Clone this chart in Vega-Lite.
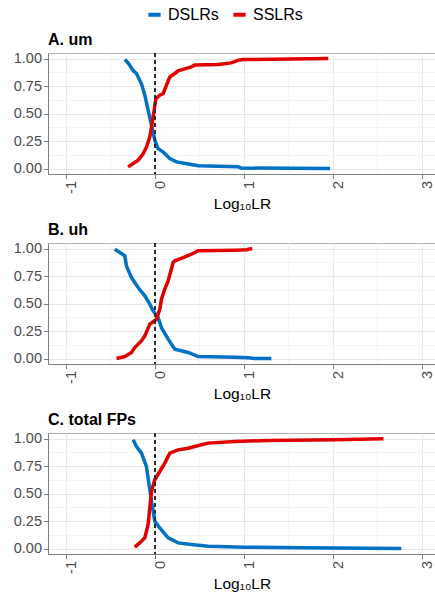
{
  "$schema": "https://vega.github.io/schema/vega-lite/v6.json",
  "padding": {"left": 12, "top": 6, "right": 0, "bottom": 2},
  "background": "white",
  "config": {
    "font": "Liberation Sans",
    "view": {"stroke": "#b3b3b3", "strokeWidth": 1},
    "title": {"anchor": "start", "frame": "group", "fontSize": 16, "fontWeight": "bold", "color": "black", "offset": 3},
    "axis": {
      "labelFont": "Liberation Sans", "labelFontSize": 14.5, "labelColor": "#4d4d4d",
      "titleFont": "Liberation Sans", "titleFontSize": 15.5, "titleFontWeight": "normal", "titleColor": "black",
      "domainColor": "#7f7f7f", "tickSize": 4.5, "labelPadding": 2, "gridWidth": 1
    },
    "legend": {"labelFont": "Liberation Sans", "labelFontSize": 16, "labelColor": "black"}
  },
  "data": {
    "values": [
      {"panel": "A. um", "series": "DSLRs", "x": -0.337, "y": 0.99},
      {"panel": "A. um", "series": "DSLRs", "x": -0.3, "y": 0.96},
      {"panel": "A. um", "series": "DSLRs", "x": -0.243, "y": 0.89},
      {"panel": "A. um", "series": "DSLRs", "x": -0.206, "y": 0.864},
      {"panel": "A. um", "series": "DSLRs", "x": -0.15, "y": 0.77},
      {"panel": "A. um", "series": "DSLRs", "x": -0.112, "y": 0.666},
      {"panel": "A. um", "series": "DSLRs", "x": -0.075, "y": 0.53},
      {"panel": "A. um", "series": "DSLRs", "x": -0.037, "y": 0.394},
      {"panel": "A. um", "series": "DSLRs", "x": 0.0, "y": 0.257},
      {"panel": "A. um", "series": "DSLRs", "x": 0.038, "y": 0.18},
      {"panel": "A. um", "series": "DSLRs", "x": 0.094, "y": 0.15},
      {"panel": "A. um", "series": "DSLRs", "x": 0.169, "y": 0.09},
      {"panel": "A. um", "series": "DSLRs", "x": 0.244, "y": 0.06},
      {"panel": "A. um", "series": "DSLRs", "x": 0.41, "y": 0.036},
      {"panel": "A. um", "series": "DSLRs", "x": 0.49, "y": 0.025},
      {"panel": "A. um", "series": "DSLRs", "x": 0.94, "y": 0.015},
      {"panel": "A. um", "series": "DSLRs", "x": 0.97, "y": 0.004},
      {"panel": "A. um", "series": "DSLRs", "x": 1.97, "y": 0.0},
      {"panel": "A. um", "series": "SSLRs", "x": -0.3, "y": 0.015},
      {"panel": "A. um", "series": "SSLRs", "x": -0.243, "y": 0.045},
      {"panel": "A. um", "series": "SSLRs", "x": -0.187, "y": 0.075},
      {"panel": "A. um", "series": "SSLRs", "x": -0.13, "y": 0.136},
      {"panel": "A. um", "series": "SSLRs", "x": -0.093, "y": 0.196},
      {"panel": "A. um", "series": "SSLRs", "x": -0.056, "y": 0.287},
      {"panel": "A. um", "series": "SSLRs", "x": -0.03, "y": 0.41},
      {"panel": "A. um", "series": "SSLRs", "x": -0.007, "y": 0.53},
      {"panel": "A. um", "series": "SSLRs", "x": 0.012, "y": 0.636},
      {"panel": "A. um", "series": "SSLRs", "x": 0.056, "y": 0.666},
      {"panel": "A. um", "series": "SSLRs", "x": 0.094, "y": 0.68},
      {"panel": "A. um", "series": "SSLRs", "x": 0.131, "y": 0.757},
      {"panel": "A. um", "series": "SSLRs", "x": 0.169, "y": 0.833},
      {"panel": "A. um", "series": "SSLRs", "x": 0.225, "y": 0.864},
      {"panel": "A. um", "series": "SSLRs", "x": 0.262, "y": 0.887},
      {"panel": "A. um", "series": "SSLRs", "x": 0.41, "y": 0.924},
      {"panel": "A. um", "series": "SSLRs", "x": 0.45, "y": 0.94},
      {"panel": "A. um", "series": "SSLRs", "x": 0.71, "y": 0.945},
      {"panel": "A. um", "series": "SSLRs", "x": 0.86, "y": 0.96},
      {"panel": "A. um", "series": "SSLRs", "x": 0.94, "y": 0.985},
      {"panel": "A. um", "series": "SSLRs", "x": 0.99, "y": 0.99},
      {"panel": "A. um", "series": "SSLRs", "x": 1.95, "y": 1.0},
      {"panel": "B. uh", "series": "DSLRs", "x": -0.45, "y": 0.994},
      {"panel": "B. uh", "series": "DSLRs", "x": -0.393, "y": 0.964},
      {"panel": "B. uh", "series": "DSLRs", "x": -0.337, "y": 0.933},
      {"panel": "B. uh", "series": "DSLRs", "x": -0.318, "y": 0.84},
      {"panel": "B. uh", "series": "DSLRs", "x": -0.262, "y": 0.736},
      {"panel": "B. uh", "series": "DSLRs", "x": -0.187, "y": 0.645},
      {"panel": "B. uh", "series": "DSLRs", "x": -0.112, "y": 0.57},
      {"panel": "B. uh", "series": "DSLRs", "x": -0.056, "y": 0.494},
      {"panel": "B. uh", "series": "DSLRs", "x": -0.019, "y": 0.433},
      {"panel": "B. uh", "series": "DSLRs", "x": 0.037, "y": 0.373},
      {"panel": "B. uh", "series": "DSLRs", "x": 0.075, "y": 0.28},
      {"panel": "B. uh", "series": "DSLRs", "x": 0.15, "y": 0.176},
      {"panel": "B. uh", "series": "DSLRs", "x": 0.225, "y": 0.085},
      {"panel": "B. uh", "series": "DSLRs", "x": 0.375, "y": 0.055},
      {"panel": "B. uh", "series": "DSLRs", "x": 0.487, "y": 0.018},
      {"panel": "B. uh", "series": "DSLRs", "x": 0.9, "y": 0.012},
      {"panel": "B. uh", "series": "DSLRs", "x": 1.05, "y": 0.006},
      {"panel": "B. uh", "series": "DSLRs", "x": 1.12, "y": 0.0},
      {"panel": "B. uh", "series": "DSLRs", "x": 1.31, "y": 0.0},
      {"panel": "B. uh", "series": "SSLRs", "x": -0.43, "y": 0.0},
      {"panel": "B. uh", "series": "SSLRs", "x": -0.337, "y": 0.018},
      {"panel": "B. uh", "series": "SSLRs", "x": -0.262, "y": 0.055},
      {"panel": "B. uh", "series": "SSLRs", "x": -0.225, "y": 0.1},
      {"panel": "B. uh", "series": "SSLRs", "x": -0.15, "y": 0.16},
      {"panel": "B. uh", "series": "SSLRs", "x": -0.112, "y": 0.206},
      {"panel": "B. uh", "series": "SSLRs", "x": -0.056, "y": 0.312},
      {"panel": "B. uh", "series": "SSLRs", "x": -0.019, "y": 0.333},
      {"panel": "B. uh", "series": "SSLRs", "x": 0.019, "y": 0.358},
      {"panel": "B. uh", "series": "SSLRs", "x": 0.056, "y": 0.448},
      {"panel": "B. uh", "series": "SSLRs", "x": 0.075, "y": 0.54},
      {"panel": "B. uh", "series": "SSLRs", "x": 0.112, "y": 0.63},
      {"panel": "B. uh", "series": "SSLRs", "x": 0.15, "y": 0.706},
      {"panel": "B. uh", "series": "SSLRs", "x": 0.206, "y": 0.873},
      {"panel": "B. uh", "series": "SSLRs", "x": 0.225, "y": 0.888},
      {"panel": "B. uh", "series": "SSLRs", "x": 0.318, "y": 0.918},
      {"panel": "B. uh", "series": "SSLRs", "x": 0.412, "y": 0.948},
      {"panel": "B. uh", "series": "SSLRs", "x": 0.487, "y": 0.979},
      {"panel": "B. uh", "series": "SSLRs", "x": 0.9, "y": 0.985},
      {"panel": "B. uh", "series": "SSLRs", "x": 1.03, "y": 0.988},
      {"panel": "B. uh", "series": "SSLRs", "x": 1.094, "y": 1.0},
      {"panel": "C. total FPs", "series": "DSLRs", "x": -0.243, "y": 0.988},
      {"panel": "C. total FPs", "series": "DSLRs", "x": -0.206, "y": 0.927},
      {"panel": "C. total FPs", "series": "DSLRs", "x": -0.15, "y": 0.867},
      {"panel": "C. total FPs", "series": "DSLRs", "x": -0.094, "y": 0.746},
      {"panel": "C. total FPs", "series": "DSLRs", "x": -0.075, "y": 0.64},
      {"panel": "C. total FPs", "series": "DSLRs", "x": -0.037, "y": 0.43},
      {"panel": "C. total FPs", "series": "DSLRs", "x": 0.0, "y": 0.248},
      {"panel": "C. total FPs", "series": "DSLRs", "x": 0.056, "y": 0.187},
      {"panel": "C. total FPs", "series": "DSLRs", "x": 0.15, "y": 0.097},
      {"panel": "C. total FPs", "series": "DSLRs", "x": 0.262, "y": 0.051},
      {"panel": "C. total FPs", "series": "DSLRs", "x": 0.412, "y": 0.036},
      {"panel": "C. total FPs", "series": "DSLRs", "x": 0.6, "y": 0.021},
      {"panel": "C. total FPs", "series": "DSLRs", "x": 1.01, "y": 0.012},
      {"panel": "C. total FPs", "series": "DSLRs", "x": 1.65, "y": 0.006},
      {"panel": "C. total FPs", "series": "DSLRs", "x": 2.77, "y": 0.0},
      {"panel": "C. total FPs", "series": "SSLRs", "x": -0.225, "y": 0.012},
      {"panel": "C. total FPs", "series": "SSLRs", "x": -0.169, "y": 0.051},
      {"panel": "C. total FPs", "series": "SSLRs", "x": -0.112, "y": 0.097},
      {"panel": "C. total FPs", "series": "SSLRs", "x": -0.075, "y": 0.218},
      {"panel": "C. total FPs", "series": "SSLRs", "x": -0.037, "y": 0.52},
      {"panel": "C. total FPs", "series": "SSLRs", "x": 0.0, "y": 0.625},
      {"panel": "C. total FPs", "series": "SSLRs", "x": 0.056, "y": 0.7},
      {"panel": "C. total FPs", "series": "SSLRs", "x": 0.112, "y": 0.776},
      {"panel": "C. total FPs", "series": "SSLRs", "x": 0.169, "y": 0.867},
      {"panel": "C. total FPs", "series": "SSLRs", "x": 0.262, "y": 0.897},
      {"panel": "C. total FPs", "series": "SSLRs", "x": 0.375, "y": 0.912},
      {"panel": "C. total FPs", "series": "SSLRs", "x": 0.524, "y": 0.943},
      {"panel": "C. total FPs", "series": "SSLRs", "x": 0.6, "y": 0.958},
      {"panel": "C. total FPs", "series": "SSLRs", "x": 0.9, "y": 0.973},
      {"panel": "C. total FPs", "series": "SSLRs", "x": 1.27, "y": 0.982},
      {"panel": "C. total FPs", "series": "SSLRs", "x": 2.02, "y": 0.988},
      {"panel": "C. total FPs", "series": "SSLRs", "x": 2.57, "y": 0.997}
    ]
  },
  "spacing": 8,
  "vconcat": [
    {
      "title": "A. um",
      "width": 388, "height": 121,
      "transform": [{"filter": "datum.panel == 'A. um'"}],
      "layer": [
        {
          "mark": {"type": "line", "strokeWidth": 3.5, "strokeCap": "butt"},
          "encoding": {
            "x": {"field": "x", "type": "quantitative", "scale": {"domain": [-1.2, 3.16], "nice": false, "zero": false},
              "axis": {"title": "Log₁₀LR", "values": [-1, -0.5, 0, 0.5, 1, 1.5, 2, 2.5, 3], "labelAngle": -90, "labelOffset": 6, "labelOverlap": false,
                "labelExpr": "datum.value % 1 == 0 ? '' + datum.value : ''",
                "gridColor": {"condition": {"test": "datum.value % 1 != 0", "value": "#f4f4f4"}, "value": "#e8e8e8"},
                "tickColor": {"condition": {"test": "datum.value % 1 != 0", "value": "transparent"}, "value": "#7f7f7f"},
                "titlePadding": 3}},
            "y": {"field": "y", "type": "quantitative", "scale": {"domain": [-0.05, 1.05], "nice": false, "zero": false},
              "axis": {"title": null, "values": [0, 0.125, 0.25, 0.375, 0.5, 0.625, 0.75, 0.875, 1],
                "labelExpr": "(datum.value * 4) % 1 == 0 ? format(datum.value, '.2f') : ''",
                "gridColor": {"condition": {"test": "(datum.value * 4) % 1 != 0", "value": "#f4f4f4"}, "value": "#e8e8e8"},
                "tickColor": {"condition": {"test": "(datum.value * 4) % 1 != 0", "value": "transparent"}, "value": "#7f7f7f"}}},
            "color": {"field": "series", "type": "nominal", "scale": {"domain": ["DSLRs", "SSLRs"], "range": ["#0072c6", "#e00000"]},
              "legend": {"title": null, "orient": "none", "direction": "horizontal", "legendX": 98, "legendY": -47, "symbolType": "stroke", "symbolSize": 150, "symbolStrokeWidth": 4, "columnPadding": 6, "labelOffset": 5}}
          }
        },
        {
          "mark": {"type": "rule", "color": "#333333", "strokeDash": [4, 3], "strokeWidth": 0.6},
          "encoding": {"x": {"datum": 0}}
        }
      ]
    },
    {
      "title": "B. uh",
      "width": 388, "height": 121,
      "transform": [{"filter": "datum.panel == 'B. uh'"}],
      "layer": [
        {
          "mark": {"type": "line", "strokeWidth": 3.5, "strokeCap": "butt"},
          "encoding": {
            "x": {"field": "x", "type": "quantitative", "scale": {"domain": [-1.2, 3.16], "nice": false, "zero": false},
              "axis": {"title": "Log₁₀LR", "values": [-1, -0.5, 0, 0.5, 1, 1.5, 2, 2.5, 3], "labelAngle": -90, "labelOffset": 6, "labelOverlap": false,
                "labelExpr": "datum.value % 1 == 0 ? '' + datum.value : ''",
                "gridColor": {"condition": {"test": "datum.value % 1 != 0", "value": "#f4f4f4"}, "value": "#e8e8e8"},
                "tickColor": {"condition": {"test": "datum.value % 1 != 0", "value": "transparent"}, "value": "#7f7f7f"},
                "titlePadding": 3}},
            "y": {"field": "y", "type": "quantitative", "scale": {"domain": [-0.05, 1.05], "nice": false, "zero": false},
              "axis": {"title": null, "values": [0, 0.125, 0.25, 0.375, 0.5, 0.625, 0.75, 0.875, 1],
                "labelExpr": "(datum.value * 4) % 1 == 0 ? format(datum.value, '.2f') : ''",
                "gridColor": {"condition": {"test": "(datum.value * 4) % 1 != 0", "value": "#f4f4f4"}, "value": "#e8e8e8"},
                "tickColor": {"condition": {"test": "(datum.value * 4) % 1 != 0", "value": "transparent"}, "value": "#7f7f7f"}}},
            "color": {"field": "series", "type": "nominal"}
          }
        },
        {
          "mark": {"type": "rule", "color": "#333333", "strokeDash": [4, 3], "strokeWidth": 0.6},
          "encoding": {"x": {"datum": 0}}
        }
      ]
    },
    {
      "title": "C. total FPs",
      "width": 388, "height": 121,
      "transform": [{"filter": "datum.panel == 'C. total FPs'"}],
      "layer": [
        {
          "mark": {"type": "line", "strokeWidth": 3.5, "strokeCap": "butt"},
          "encoding": {
            "x": {"field": "x", "type": "quantitative", "scale": {"domain": [-1.2, 3.16], "nice": false, "zero": false},
              "axis": {"title": "Log₁₀LR", "values": [-1, -0.5, 0, 0.5, 1, 1.5, 2, 2.5, 3], "labelAngle": -90, "labelOffset": 6, "labelOverlap": false,
                "labelExpr": "datum.value % 1 == 0 ? '' + datum.value : ''",
                "gridColor": {"condition": {"test": "datum.value % 1 != 0", "value": "#f4f4f4"}, "value": "#e8e8e8"},
                "tickColor": {"condition": {"test": "datum.value % 1 != 0", "value": "transparent"}, "value": "#7f7f7f"},
                "titlePadding": 3}},
            "y": {"field": "y", "type": "quantitative", "scale": {"domain": [-0.05, 1.05], "nice": false, "zero": false},
              "axis": {"title": null, "values": [0, 0.125, 0.25, 0.375, 0.5, 0.625, 0.75, 0.875, 1],
                "labelExpr": "(datum.value * 4) % 1 == 0 ? format(datum.value, '.2f') : ''",
                "gridColor": {"condition": {"test": "(datum.value * 4) % 1 != 0", "value": "#f4f4f4"}, "value": "#e8e8e8"},
                "tickColor": {"condition": {"test": "(datum.value * 4) % 1 != 0", "value": "transparent"}, "value": "#7f7f7f"}}},
            "color": {"field": "series", "type": "nominal"}
          }
        },
        {
          "mark": {"type": "rule", "color": "#333333", "strokeDash": [4, 3], "strokeWidth": 0.6},
          "encoding": {"x": {"datum": 0}}
        }
      ]
    }
  ]
}
